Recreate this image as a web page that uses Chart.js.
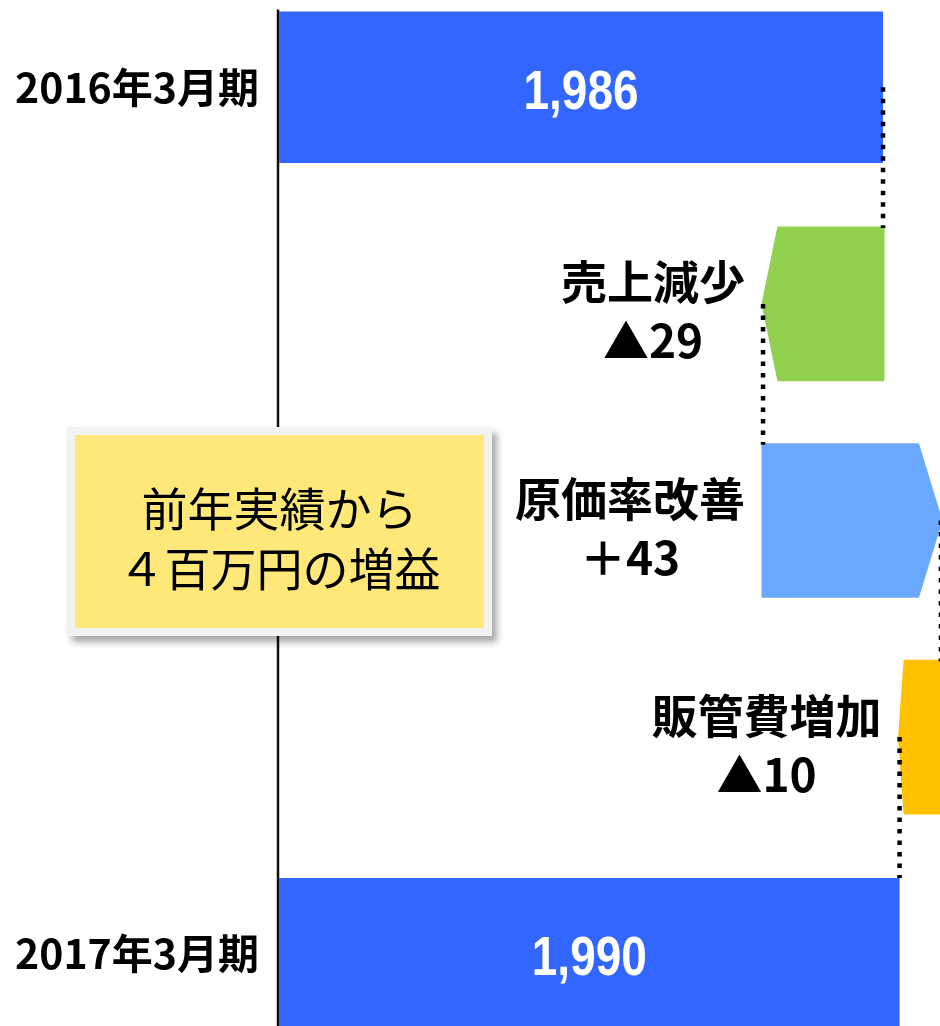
<!DOCTYPE html>
<html>
<head>
<meta charset="utf-8">
<script src="https://cdn.jsdelivr.net/npm/chart.js@4"></script>
<style>
  html, body { margin: 0; padding: 0; width: 940px; height: 1026px; overflow: hidden; background: #fff; }
  #wrap { position: absolute; left: 0; top: -21px; width: 1003px; height: 1083px; }
  #note {
    position: absolute; left: 67px; top: 427px; width: 409px; height: 185px;
    border: 8px solid #f2f2f2; background: #ffe87a;
    box-shadow: 5px 6px 7px rgba(0, 0, 0, 0.35);
    display: flex; align-items: center; justify-content: center; text-align: center;
    font-family: "Noto Sans CJK JP", sans-serif; font-size: 46px; line-height: 60px; color: #000;
    padding-top: 8px; box-sizing: content-box; z-index: 2;
  }
</style>
</head>
<body>
<div id="wrap"><canvas id="bridge"></canvas></div>
<div id="note"><div>前年実績から<br>４百万円の増益</div></div>
<script>
// 営業利益の増減（百万円）
const categories = ['2016年3月期', '売上減少', '原価率改善', '販管費増加', '2017年3月期'];
const amounts = [1986, -29, 43, -10, 1990];
const isTotal = [true, false, false, false, true];
const valueLabels = ['1,986', '▲29', '＋43', '▲10', '1,990'];

const axisMin = 1840;
const axisMax = 2015;
const colors = ['#3366ff', '#92d050', '#6aa8ff', '#ffc000', '#3366ff'];

// floating bars built from the running total
const ends = [];
let running = 0;
const ranges = amounts.map((v, i) => {
    if (isTotal[i]) {
        running = v;
        ends.push(running);
        return [axisMin, v];
    }
    const start = running;
    running += v;
    ends.push(running);
    return [Math.min(start, running), Math.max(start, running)];
});

function arrowPath(ctx, left, right, top, bottom, dir) {
    const d = (right - left) * 0.13;
    const mid = (top + bottom) / 2;
    ctx.beginPath();
    if (dir < 0) {
        ctx.moveTo(left, mid);
        ctx.lineTo(left + d, top);
        ctx.lineTo(right, top);
        ctx.lineTo(right, bottom);
        ctx.lineTo(left + d, bottom);
    } else {
        ctx.moveTo(left, top);
        ctx.lineTo(right - d, top);
        ctx.lineTo(right, mid);
        ctx.lineTo(right - d, bottom);
        ctx.lineTo(left, bottom);
    }
    ctx.closePath();
}

const bridgePlugin = {
    id: 'bridge',
    beforeDatasetsDraw(chart) {
        const ctx = chart.ctx;
        const bars = chart.getDatasetMeta(0).data;
        const first = bars[0].getProps(['y', 'height'], true);
        ctx.save();
        ctx.strokeStyle = '#111';
        ctx.lineWidth = 2.5;
        ctx.beginPath();
        ctx.moveTo(chart.scales.x.left - 1, first.y - first.height / 2 - 2);
        ctx.lineTo(chart.scales.x.left - 1, chart.chartArea.bottom);
        ctx.stroke();
        ctx.restore();
    },
    afterDatasetsDraw(chart) {
        const ctx = chart.ctx;
        const xs = chart.scales.x;
        const bars = chart.getDatasetMeta(0).data;
        ctx.save();
        // step arrows
        bars.forEach((bar, i) => {
            if (isTotal[i]) return;
            const p = bar.getProps(['x', 'y', 'base', 'height'], true);
            const left = Math.min(p.x, p.base), right = Math.max(p.x, p.base);
            const top = p.y - p.height / 2, bottom = p.y + p.height / 2;
            arrowPath(ctx, left, right, top, bottom, amounts[i]);
            ctx.fillStyle = colors[i];
            ctx.strokeStyle = colors[i];
            ctx.lineWidth = 3;
            ctx.lineJoin = 'round';
            ctx.fill();
            ctx.stroke();

            // name and amount left of the arrow
            ctx.fillStyle = '#000';
            ctx.textBaseline = 'middle';
            ctx.textAlign = 'center';
            ctx.font = 'bold 46px "Noto Sans CJK JP", sans-serif';
            const w = ctx.measureText(categories[i]).width;
            const cx = left - 18 - w / 2;
            ctx.fillText(categories[i], cx, p.y - 22);
            ctx.fillText(valueLabels[i], cx, p.y + 37);
        });

        // totals inside the bars (narrowed like the original)
        bars.forEach((bar, i) => {
            if (!isTotal[i]) return;
            const p = bar.getProps(['x', 'y', 'base'], true);
            ctx.save();
            ctx.translate((p.x + p.base) / 2, p.y + 6);
            ctx.scale(0.82, 1);
            ctx.fillStyle = '#fff';
            ctx.textAlign = 'center';
            ctx.textBaseline = 'middle';
            ctx.font = 'bold 56px "Liberation Sans", Arial, sans-serif';
            ctx.fillText(valueLabels[i], 0, 0);
            ctx.restore();
        });

        // dotted connectors
        ctx.strokeStyle = '#000';
        ctx.lineWidth = 4.5;
        ctx.setLineDash([4.5, 7]);
        for (let i = 0; i < bars.length - 1; i++) {
            const a = bars[i].getProps(['y'], true);
            const b = bars[i + 1].getProps(['y', 'height'], true);
            const x = xs.getPixelForValue(ends[i]);
            ctx.beginPath();
            ctx.moveTo(x, a.y);
            ctx.lineTo(x, b.y - b.height / 2);
            ctx.stroke();
        }
        ctx.restore();
    }
};

const ctx = document.getElementById('bridge').getContext('2d');
const bridgeChart = new Chart(ctx, {
    type: 'bar',
    data: {
        labels: categories,
        datasets: [{
            data: ranges,
            backgroundColor: colors.map((c, i) => isTotal[i] ? c : 'rgba(0,0,0,0)'),
            borderWidth: 0,
            categoryPercentage: 1,
            barPercentage: 0.7
        }]
    },
    options: {
        indexAxis: 'y',
        responsive: true,
        maintainAspectRatio: false,
        animation: false,
        layout: { padding: 0 },
        plugins: {
            legend: { display: false },
            tooltip: { enabled: false }
        },
        scales: {
            x: {
                display: false,
                min: axisMin,
                max: axisMax
            },
            y: {
                afterFit: (scale) => {
                    scale.width = 279;
                    scale.paddingTop = 0;
                    scale.paddingBottom = 0;
                },
                grid: { display: false, drawTicks: false },
                border: { display: false },
                ticks: {
                    padding: 20,
                    color: '#000',
                    font: { family: '"Noto Sans CJK JP", sans-serif', size: 41, weight: 'bold' },
                    callback: function (value, index) {
                        return isTotal[index] ? categories[index] : '';
                    }
                }
            }
        }
    },
    plugins: [bridgePlugin]
});
</script>
</body>
</html>
